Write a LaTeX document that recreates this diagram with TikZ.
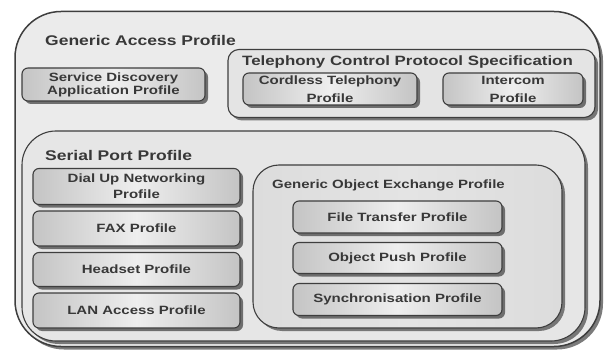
\documentclass[tikz,border=0pt]{standalone}
\usepackage{fontspec}
\setmainfont{Liberation Sans}[FakeStretch=1.25]
\usetikzlibrary{shadows,positioning}

\definecolor{edge}{HTML}{3E3E3E}
\definecolor{ink}{HTML}{383838}
\definecolor{gapfill}{HTML}{EBEBEB}
\definecolor{tcsfill}{HTML}{E4E4E4}
\definecolor{sppfill}{HTML}{E6E6E6}
\definecolor{goepfill}{HTML}{DCDCDC}
\definecolor{leafdark}{HTML}{C4C4C4}
\definecolor{leaflight}{HTML}{EEEEEE}
\definecolor{shade}{HTML}{5A5A5A}

\tikzset{
  frame/.style={draw=edge, line width=1.1pt, inner sep=0pt,
    drop shadow={shadow xshift=3pt, shadow yshift=-3pt, fill=shade, opacity=0.8}},
  outerbox/.style={frame, fill=gapfill, rounded corners=46pt, line width=1.5pt},
  groupbox/.style={frame, rounded corners=#1},
  leaf/.style={draw=edge, line width=1.1pt, rounded corners=6pt,
    left color=leafdark, right color=leafdark, middle color=leaflight,
    drop shadow={shadow xshift=3pt, shadow yshift=-3pt, fill=shade, opacity=0.85},
    text=ink, font=\bfseries\fontsize{12}{16}\selectfont, align=center,
    inner sep=0pt},
  title/.style={text=ink, font=\bfseries\fontsize{14}{16}\selectfont, inner sep=0pt, anchor=west},
}

\begin{document}
\begin{tikzpicture}[x=1pt, y=-1pt]
\useasboundingbox (0,0) rectangle (610,358);

% outer container
\node[outerbox, minimum width=585pt, minimum height=335pt] (gap) at (307.5,179) {};
\node[title] (gaplbl) at (45,40) {Generic Access Profile};

% service discovery
\node[leaf, minimum width=183pt, minimum height=33pt,
      font=\bfseries\fontsize{12}{13}\selectfont] (sdap) at (113.5,84.5)
  {Service Discovery\\Application Profile};

% telephony control group
\node[groupbox=11pt, fill=tcsfill, minimum width=367pt, minimum height=68pt] (tcs) at (411.5,83.5) {};
\node[title, font=\bfseries\fontsize{13.5}{16}\selectfont] (tcslbl) at (242,62.5)
  {Telephony Control Protocol Specification};
\node[leaf, minimum width=174pt, minimum height=32pt] (ctp) at (330,89)
  {\raisebox{2pt}{Cordless Telephony}\\Profile};
\node[leaf, minimum width=140pt, minimum height=32pt] (icp) at (513,89)
  {\raisebox{2pt}{Intercom}\\Profile};

% serial port group
\node[groupbox=34pt, fill=sppfill, minimum width=563pt, minimum height=210pt] (spp) at (303.5,236) {};
\node[title] (spplbl) at (45,155) {Serial Port Profile};

\node[leaf, minimum width=207pt, minimum height=36pt] (dun) at (136.5,186.5)
  {Dial Up Networking\\Profile};
\node[leaf, minimum width=207pt, minimum height=35pt] (fax) at (136.5,228.5) {FAX Profile};
\node[leaf, minimum width=207pt, minimum height=34pt] (hsp) at (136.5,269.5) {Headset Profile};
\node[leaf, minimum width=207pt, minimum height=35pt] (lap) at (136.5,310.5) {LAN Access Profile};

% object exchange group
\node[groupbox=26pt, left color=goepfill, right color=goepfill, middle color=tcsfill,
      minimum width=309pt, minimum height=163pt] (goep) at (407.5,246.5) {};
\node[title, font=\bfseries\fontsize{12}{14}\selectfont] (goeplbl) at (272,185.5)
  {Generic Object Exchange Profile};

\node[leaf, minimum width=209pt, minimum height=32pt] (ftp) at (397.5,217) {File Transfer Profile};
\node[leaf, minimum width=209pt, minimum height=31pt] (opp) at (397.5,258) {Object Push Profile};
\node[leaf, minimum width=209pt, minimum height=32pt] (sync) at (397.5,299.5) {Synchronisation Profile};
\end{tikzpicture}
\end{document}
